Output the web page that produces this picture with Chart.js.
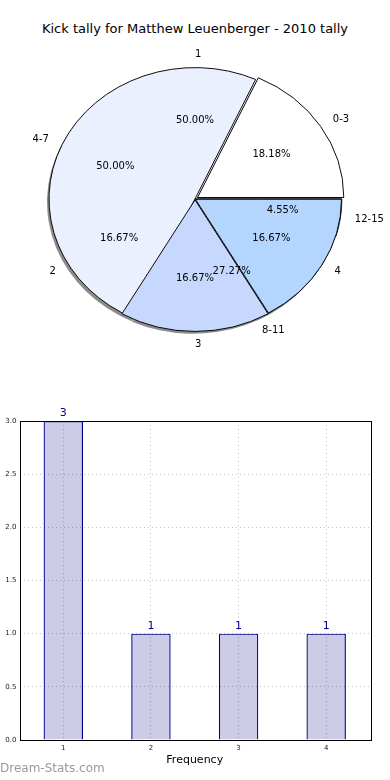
<!DOCTYPE html>
<html>
<head>
<meta charset="utf-8">
<script src="https://cdn.jsdelivr.net/npm/chart.js@4.4.1/dist/chart.umd.min.js"></script>
<style>
  body { margin: 0; background: #fff; font-family: "DejaVu Sans", sans-serif; }
  #page { position: relative; width: 390px; height: 780px; overflow: hidden; }
  #title { position: absolute; left: 0; top: 21px; width: 390px; text-align: center; font-size: 13px; color: #000; }
  .pie { position: absolute; left: 0; top: 0; }
  #bar { position: absolute; left: 0; top: 400px; }
  #mark { position: absolute; left: 0; top: 761px; font-size: 12px; color: #9a9a9a; }
</style>
</head>
<body>
<div id="page">
  <div id="title">Kick tally for Matthew Leuenberger - 2010 tally</div>
  <canvas id="pieA" class="pie" width="390" height="398"></canvas>
  <canvas id="pieB" class="pie" width="390" height="398"></canvas>
  <canvas id="bar" width="390" height="372"></canvas>
  <div id="mark">Dream-Stats.com</div>
</div>
<script>
// kick ranges (outer labels) and kicks per game
const rangeLabels = ["0-3", "4-7", "8-11", "12-15"];
const rangeCounts = [4, 11, 6, 1];
const kickLabels = ["1", "2", "3", "4"];
const kickCounts = [3, 1, 1, 1];
const pieColors = ["#ffffff", "#eaf0fe", "#c6d8fe", "#b4d5fe"];

const RX = 146;   // horizontal radius
const KY = 0.9;   // squash factor, pie is drawn as an ellipse
const FONT = '"DejaVu Sans", sans-serif';

function arcOffset(el) {
  const circ = el.endAngle - el.startAngle;
  return (el.options.offset || 0) / 4 * (2 - Math.sin(Math.min(Math.PI, circ)));
}

function squash(ctx, chart) {
  const a = chart.chartArea;
  const cx = (a.left + a.right) / 2, cy = (a.top + a.bottom) / 2;
  ctx.translate(cx, cy);
  ctx.scale(1, -KY); // flip so slices go counter clockwise like matplotlib
  ctx.translate(-cx, -cy);
}

const ellipse = {
  id: "ellipse",
  beforeDatasetsDraw(chart, args, opts) {
    const ctx = chart.ctx;
    if (opts.shadow) {
      ctx.save();
      ctx.translate(-2, 3);
      squash(ctx, chart);
      ctx.fillStyle = "rgba(0,0,0,0.45)";
      chart.getDatasetMeta(0).data.forEach((el) => {
        const mid = (el.startAngle + el.endAngle) / 2;
        const off = arcOffset(el);
        const x = el.x + Math.cos(mid) * off, y = el.y + Math.sin(mid) * off;
        ctx.beginPath();
        ctx.moveTo(x, y);
        ctx.arc(x, y, el.outerRadius, el.startAngle, el.endAngle);
        ctx.closePath();
        ctx.fill();
      });
      ctx.restore();
    }
    ctx.save();
    squash(ctx, chart);
  },
  afterDatasetsDraw(chart) {
    chart.ctx.restore();
  },
};

function drawPieText(ctx, chart, labels, values) {
  const a = chart.chartArea;
  const cx = (a.left + a.right) / 2, cy = (a.top + a.bottom) / 2;
  const total = values.reduce((s, v) => s + v, 0);
  ctx.save();
  ctx.font = "10px " + FONT;
  ctx.fillStyle = "#000";
  ctx.textBaseline = "middle";
  chart.getDatasetMeta(0).data.forEach((el, i) => {
    const mid = (el.startAngle + el.endAngle) / 2;
    const c = Math.cos(mid), s = Math.sin(mid);
    const off = arcOffset(el);
    const ox = c * off, oy = -s * off * KY;
    ctx.textAlign = c > -1e-6 ? "left" : "right";
    ctx.fillText(labels[i], cx + ox + c * RX * 1.1, cy + oy - s * RX * KY * 1.1);
    ctx.textAlign = "center";
    const pct = (values[i] / total * 100).toFixed(2) + "%";
    ctx.fillText(pct, cx + ox + c * RX * 0.6, cy + oy - s * RX * KY * 0.6);
  });
  ctx.restore();
}

function pieConfig(labels, values, fills, borders, offsets, extra) {
  return {
    type: "pie",
    data: {
      labels: labels,
      datasets: [{
        data: values,
        backgroundColor: fills,
        borderColor: borders,
        borderWidth: 1,
        borderAlign: "center",
        offset: offsets,
      }],
    },
    options: {
      responsive: false,
      animation: false,
      events: [],
      radius: RX,
      rotation: 90,
      plugins: {
        legend: { display: false },
        tooltip: { enabled: false },
        ellipse: extra,
      },
    },
    plugins: [ellipse],
  };
}

const pieA = new Chart(
  document.getElementById("pieA"),
  pieConfig(rangeLabels, rangeCounts, pieColors, "#000", [12, 0, 2, 2], { shadow: true })
);

const topFills = ["rgba(0,0,0,0)", "rgba(0,0,0,0)", pieColors[2], pieColors[3]];
const topBorders = ["rgba(0,0,0,0)", "rgba(0,0,0,0)", "#000", "#000"];
const cfgB = pieConfig(kickLabels, kickCounts, topFills, topBorders, [0, 0, 4, 2], { shadow: false });
cfgB.plugins.push({
  id: "pieText",
  afterDraw(chart) {
    drawPieText(chart.ctx, pieA, rangeLabels, rangeCounts);
    drawPieText(chart.ctx, chart, kickLabels, kickCounts);
  },
});
new Chart(document.getElementById("pieB"), cfgB);

// bar chart
const frame = {
  id: "frame",
  afterDraw(chart) {
    const { ctx, chartArea: a } = chart;
    ctx.save();
    ctx.strokeStyle = "#000";
    ctx.lineWidth = 1;
    ctx.strokeRect(Math.round(a.left) + 0.5, Math.round(a.top) + 0.5,
      Math.round(a.right - a.left), Math.round(a.bottom - a.top));
    ctx.restore();
  },
};

const valueLabels = {
  id: "valueLabels",
  afterDatasetsDraw(chart) {
    const ctx = chart.ctx;
    ctx.save();
    ctx.font = "11px " + FONT;
    ctx.fillStyle = "#00008b";
    ctx.textAlign = "center";
    ctx.textBaseline = "bottom";
    chart.getDatasetMeta(0).data.forEach((bar, i) => {
      ctx.fillText(String(kickCounts[i]), bar.x, bar.y - 2);
    });
    ctx.restore();
  },
};

new Chart(document.getElementById("bar"), {
  type: "bar",
  data: {
    labels: kickLabels,
    datasets: [{
      data: kickCounts,
      backgroundColor: "rgba(0,0,128,0.2)",
      borderColor: "#00008b",
      borderWidth: 1.2,
      barPercentage: 0.45,
      categoryPercentage: 1,
    }],
  },
  options: {
    responsive: false,
    animation: false,
    events: [],
    layout: { padding: { top: 21, right: 20, bottom: 5, left: 0 } },
    plugins: { legend: { display: false }, tooltip: { enabled: false } },
    scales: {
      x: {
        offset: true,
        grid: { offset: false, color: "#c4c4c4", drawTicks: false },
        border: { display: false, dash: [1, 3] },
        ticks: { font: { size: 7, family: FONT }, color: "#222", padding: 4 },
        title: { display: true, text: "Frequency", font: { size: 11, family: FONT }, color: "#000", padding: 0 },
        afterFit: (s) => { s.height = 27; },
      },
      y: {
        min: 0,
        max: 3,
        ticks: {
          stepSize: 0.5,
          callback: (v) => v.toFixed(1),
          font: { size: 7, family: FONT },
          color: "#222",
          padding: 3,
        },
        grid: { color: "#c4c4c4", drawTicks: false },
        border: { display: false, dash: [1, 3] },
        afterFit: (s) => { s.width = 19.5; },
      },
    },
  },
  plugins: [frame, valueLabels],
});
</script>
</body>
</html>
